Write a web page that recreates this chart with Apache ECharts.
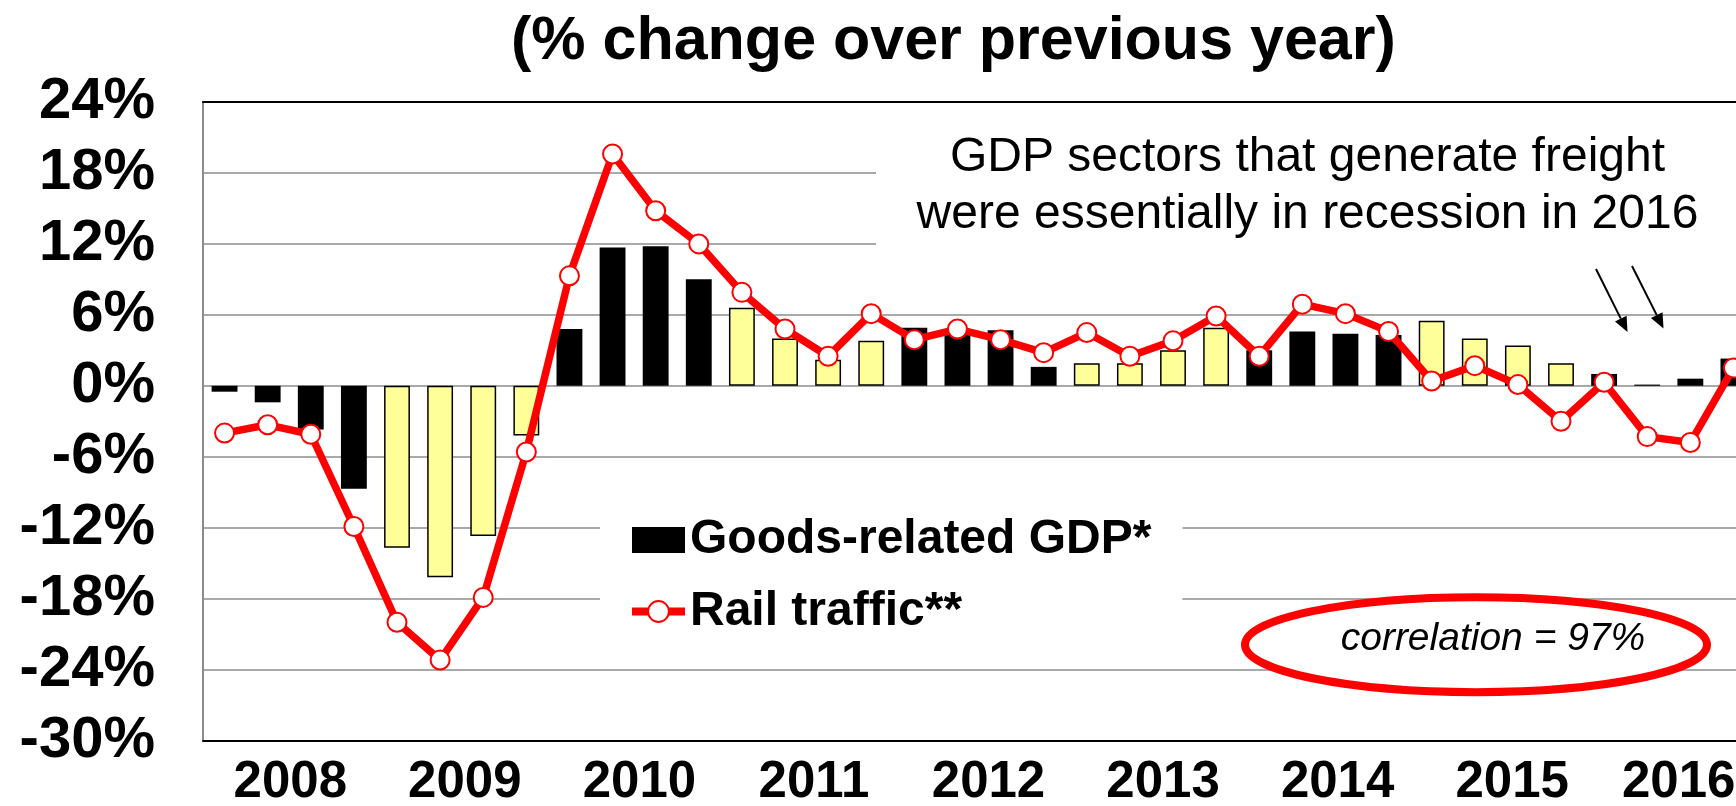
<!DOCTYPE html>
<html>
<head>
<meta charset="utf-8">
<script src="https://cdn.jsdelivr.net/npm/echarts@6/dist/echarts.min.js"></script>
<style>
  html, body { margin: 0; padding: 0; background: #fff; }
  #chart { width: 1736px; height: 806px; }
</style>
</head>
<body>
<div id="chart"></div>
<script>
// Year-over-year change, quarterly, 2008 Q1 – 2016 Q4
const years = ['2008', '2009', '2010', '2011', '2012', '2013', '2014', '2015', '2016'];
const quarterNames = ['Q1', 'Q2', 'Q3', 'Q4'];

// Goods-related GDP, % change over previous year
const goodsGdp = [
  -0.5, -1.4, -3.7, -8.7,
  -13.7, -16.2, -12.7, -4.2,
  4.8, 11.7, 11.8, 9.0,
  6.6, 4.0, 2.2, 3.8,
  4.9, 4.8, 4.7, 1.6,
  1.9, 1.9, 3.0, 4.9,
  3.0, 4.6, 4.4, 4.3,
  5.5, 4.0, 3.4, 1.9,
  1.0, 0.1, 0.6, 2.3
];

// Rail traffic, % change over previous year
const railTraffic = [
  -4.0, -3.3, -4.1, -11.9,
  -20.0, -23.2, -17.9, -5.6,
  9.3, 19.6, 14.8, 12.0,
  7.9, 4.8, 2.5, 6.1,
  3.9, 4.8, 3.9, 2.8,
  4.5, 2.5, 3.8, 5.9,
  2.5, 6.9, 6.1, 4.6,
  0.4, 1.7, 0.1, -3.0,
  0.3, -4.3, -4.8, 1.5
];

// Value axis ticks
const yMin = -30;
const yMax = 24;
const yStep = 6;

const quarters = [];
years.forEach(function (y) {
  quarterNames.forEach(function (q) { quarters.push(y + ' ' + q); });
});

const FONT = '"Liberation Sans", Arial, Helvetica, sans-serif';
const YELLOW = '#ffff99';
const GRID_GRAY = '#8c8c8c';

// alternate bar fill by year: black, yellow, black, ...
const barData = goodsGdp.map(function (v, i) {
  const yearIdx = Math.floor(i / 4);
  return yearIdx % 2 === 1
    ? { value: v, itemStyle: { color: YELLOW, borderColor: '#000', borderWidth: 1.5 } }
    : { value: v };
});

// year labels; the last one is nudged inward from the right edge
const yearAxisData = years.map(function (y, i) {
  return i === years.length - 1
    ? { value: y, textStyle: { padding: [0, 16, 0, 0] } }
    : y;
});

// arrow from (x1,y1) to tip (x2,y2) with a filled head
function arrow(x1, y1, x2, y2) {
  const dx = x2 - x1, dy = y2 - y1;
  const len = Math.sqrt(dx * dx + dy * dy);
  const ux = dx / len, uy = dy / len;
  const head = 15, half = 6.5;
  const bx = x2 - ux * head, by = y2 - uy * head;
  return [
    { type: 'line', z: 5, shape: { x1: x1, y1: y1, x2: bx, y2: by },
      style: { stroke: '#000', lineWidth: 2 } },
    { type: 'polygon', z: 5,
      shape: { points: [[x2, y2], [bx - uy * half, by + ux * half], [bx + uy * half, by - ux * half]] },
      style: { fill: '#000' } }
  ];
}

const chart = echarts.init(document.getElementById('chart'), null, { renderer: 'canvas' });

const option = {
  animation: false,
  backgroundColor: '#fff',
  title: {
    text: '(% change over previous year)',
    left: 511,
    top: 12,
    padding: 0,
    textStyle: { fontFamily: FONT, fontSize: 61, fontWeight: 'bold', color: '#000' }
  },
  legend: {
    orient: 'vertical',
    left: 600,
    top: 480,
    padding: [36, 31, 10, 28],
    backgroundColor: '#fff',
    itemWidth: 53,
    itemHeight: 26,
    itemGap: 23.5,
    selectedMode: false,
    lineStyle: { width: 8 },
    textStyle: { fontFamily: FONT, fontSize: 48, fontWeight: 'bold', color: '#000' },
    data: [
      { name: 'Goods-related GDP*', icon: 'rect' },
      { name: 'Rail traffic**' }
    ]
  },
  grid: [
    { left: 203, right: -19, top: 102, bottom: 65.5, outerBoundsMode: 'none', containLabel: false },
    { left: 203, right: -38, top: 102, bottom: 65.5, outerBoundsMode: 'none', containLabel: false }
  ],
  xAxis: [
    {
      type: 'category', gridIndex: 0, data: quarters, position: 'bottom',
      axisLine: { onZero: false, lineStyle: { color: '#000', width: 2 } },
      axisTick: { show: false }, axisLabel: { show: false }, splitLine: { show: false }
    },
    {
      type: 'category', gridIndex: 0, data: quarters, position: 'top',
      axisLine: { onZero: false, lineStyle: { color: '#000', width: 2 } },
      axisTick: { show: false }, axisLabel: { show: false }, splitLine: { show: false }
    },
    {
      type: 'category', gridIndex: 1, data: yearAxisData, position: 'bottom',
      axisLine: { show: false }, axisTick: { show: false }, splitLine: { show: false },
      axisLabel: {
        interval: 0, margin: 17, color: '#000',
        fontFamily: FONT, fontSize: 51, fontWeight: 'bold'
      }
    }
  ],
  yAxis: [
    {
      type: 'value', gridIndex: 0, min: yMin, max: yMax, interval: yStep,
      axisLine: { show: true, lineStyle: { color: GRID_GRAY, width: 2 } },
      axisTick: { show: false },
      axisLabel: {
        formatter: '{value}%', margin: 48, color: '#000',
        fontFamily: FONT, fontSize: 58, fontWeight: 'bold'
      },
      splitLine: { show: true, lineStyle: { color: GRID_GRAY, width: 1.5 } }
    },
    {
      type: 'value', gridIndex: 1, min: yMin, max: yMax, show: false,
      axisLine: { show: false }, axisLabel: { show: false }, splitLine: { show: false }
    }
  ],
  series: [
    {
      name: 'Goods-related GDP*',
      type: 'bar',
      xAxisIndex: 0, yAxisIndex: 0,
      barWidth: '60%',
      itemStyle: { color: '#000' },
      data: barData
    },
    {
      name: 'Rail traffic**',
      type: 'line',
      xAxisIndex: 0, yAxisIndex: 0,
      z: 3,
      symbol: 'circle',
      symbolSize: 19,
      lineStyle: { color: '#ff0000', width: 7.5 },
      itemStyle: { color: '#ffffff', borderColor: '#ff0000', borderWidth: 2 },
      data: railTraffic
    }
  ],
  graphic: [
    // white backing behind the note
    { type: 'rect', z: 1, shape: { x: 876, y: 128, width: 880, height: 134 }, style: { fill: '#fff' } },
    {
      type: 'text', z: 5, x: 1307.5, y: 186,
      style: {
        text: 'GDP sectors that generate freight\nwere essentially in recession in 2016',
        fontFamily: FONT, fontSize: 48, lineHeight: 57,
        align: 'center', verticalAlign: 'middle', fill: '#000'
      }
    }
  ]
    .concat(arrow(1596, 269, 1627.5, 332))
    .concat(arrow(1632, 266, 1663.5, 328.5))
    .concat([
      {
        type: 'ellipse', z: 1,
        shape: { cx: 1476, cy: 644.7, rx: 231, ry: 47.5 },
        style: { fill: '#fff', stroke: '#ff0000', lineWidth: 8 }
      },
      {
        type: 'text', z: 6, x: 1493, y: 639,
        style: {
          text: 'correlation = 97%',
          fontFamily: FONT, fontSize: 39, fontStyle: 'italic',
          align: 'center', verticalAlign: 'middle', fill: '#000'
        }
      }
    ])
};

chart.setOption(option);
</script>
</body>
</html>
